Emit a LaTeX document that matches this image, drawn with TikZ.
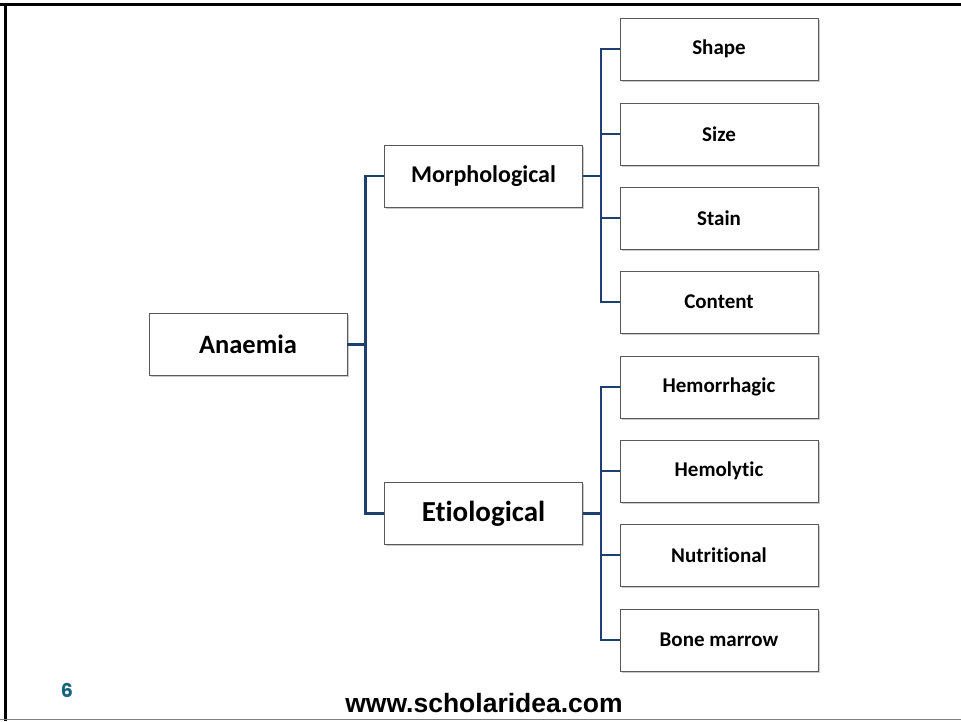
\documentclass[tikz,border=0pt]{standalone}
\usepackage{fontspec}
\setmainfont{Carlito}[Ligatures=NoCommon]
\newfontfamily\footfont{Liberation Sans}
\newfontfamily\numfont{Poppins}
\usetikzlibrary{positioning,shadows}

\definecolor{linkblue}{HTML}{1F3F6E}
\definecolor{pageteal}{HTML}{17657D}

\begin{document}
\begin{tikzpicture}[
    x=1pt, y=-1pt,
    box/.style={rectangle, draw=black!65, fill=white, line width=0.8pt, minimum width=198pt, minimum height=62pt, inner sep=0pt, font=\bfseries\fontsize{21}{25}\selectfont, drop shadow={shadow xshift=1.5pt, shadow yshift=-1.5pt, opacity=0.35, fill=black!60}},
    bigbox/.style={box, font=\bfseries\fontsize{26.5}{30}\selectfont},
    link/.style={draw=linkblue, line width=2.2pt}
]

% Rahmen
\useasboundingbox (0,0) rectangle (961,721);
\draw[line width=3pt] (0,4.5) -- (961,4.5);
\draw[line width=3pt] (5,3) -- (5,721);
\draw[black!50, line width=1pt] (0,719.5) -- (961,719.5);

% Wurzel
\node[bigbox] (anaemia) at (248,344.5) {Anaemia};

% Zweite Ebene
\node[bigbox, font=\bfseries\fontsize{24}{28}\selectfont] (morph) at (483.5,176) {Morphological};
\node[bigbox, font=\bfseries\fontsize{29}{33}\selectfont] (etio) at (483.5,513.5) {Etiological};

% Dritte Ebene
\node[box] (shape) at (719,49) {Shape};
\node[box] (size) at (719,134) {Size};
\node[box] (stain) at (719,218) {Stain};
\node[box] (content) at (719,302) {Content};
\node[box] (hemorrhagic) at (719,387) {Hemorrhagic};
\node[box] (hemolytic) at (719,471) {Hemolytic};
\node[box] (nutritional) at (719,555) {Nutritional};
\node[box] (bonemarrow) at (719,640) {Bone marrow};

% Verbindungen
\draw[link] (anaemia.east) -- ++(18,0) coordinate (j0) |- (morph.west);
\draw[link] (j0) |- (etio.west);
\draw[link] (morph.east) -- ++(18,0) coordinate (j1) |- (shape.west);
\foreach \n in {size,stain,content}
    \draw[link] (j1) |- (\n.west);
\draw[link] (etio.east) -- ++(18,0) coordinate (j2) |- (hemorrhagic.west);
\foreach \n in {hemolytic,nutritional,bonemarrow}
    \draw[link] (j2) |- (\n.west);

% Fusszeile
\node[font=\numfont\bfseries\fontsize{19}{22}\selectfont, text=pageteal] (pagenum) at (67,690) {6};
\node[font=\footfont\bfseries\fontsize{26.5}{30}\selectfont] (footer) at (484,703) {www.scholaridea.com};

\end{tikzpicture}
\end{document}
